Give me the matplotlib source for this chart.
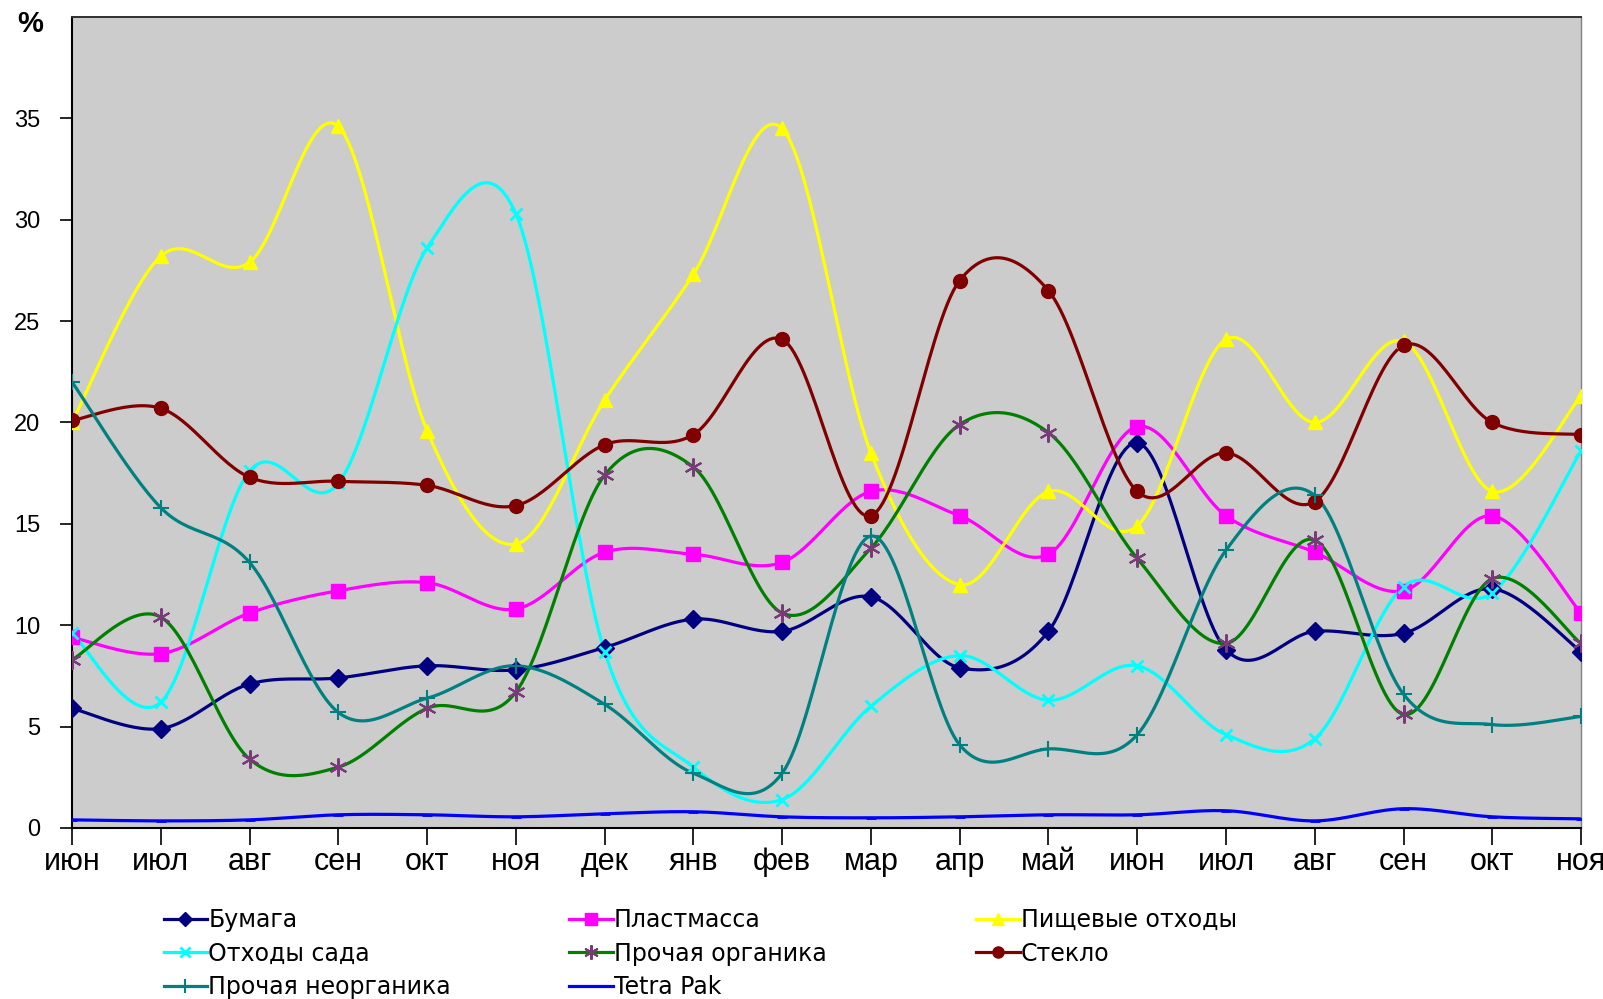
#!/usr/bin/env python3
"""
Waste composition by month, smoothed line chart.
"""

import numpy as np
import matplotlib
matplotlib.use("Agg")
import matplotlib.pyplot as plt
from matplotlib.transforms import ScaledTranslation

months = ["июн", "июл", "авг", "сен", "окт", "ноя", "дек", "янв", "фев",
          "мар", "апр", "май", "июн", "июл", "авг", "сен", "окт", "ноя"]

paper = [5.9, 4.9, 7.1, 7.4, 8.0, 7.8, 8.9, 10.3, 9.7,
         11.4, 7.9, 9.7, 19.0, 8.8, 9.7, 9.6, 11.8, 8.7]
plastic = [9.4, 8.6, 10.6, 11.7, 12.1, 10.8, 13.6, 13.5, 13.1,
           16.6, 15.4, 13.5, 19.8, 15.4, 13.6, 11.7, 15.4, 10.6]
food = [20.0, 28.2, 27.9, 34.6, 19.6, 14.0, 21.1, 27.3, 34.5,
        18.5, 12.0, 16.6, 14.9, 24.1, 20.0, 24.0, 16.6, 21.3]
garden = [9.6, 6.2, 17.6, 17.0, 28.6, 30.3, 8.7, 3.0, 1.4,
          6.0, 8.5, 6.3, 8.0, 4.6, 4.4, 11.9, 11.6, 18.6]
other_org = [8.3, 10.4, 3.4, 3.0, 5.9, 6.7, 17.4, 17.8, 10.6,
             13.8, 19.9, 19.5, 13.3, 9.1, 14.2, 5.6, 12.3, 9.1]
glass = [20.1, 20.7, 17.3, 17.1, 16.9, 15.9, 18.9, 19.4, 24.1,
         15.4, 27.0, 26.5, 16.6, 18.5, 16.1, 23.8, 20.0, 19.4]
other_inorg = [22.0, 15.8, 13.1, 5.7, 6.4, 8.0, 6.1, 2.7, 2.7,
               14.4, 4.1, 3.9, 4.6, 13.7, 16.4, 6.6, 5.1, 5.5]
tetra_pak = [0.4, 0.35, 0.4, 0.65, 0.65, 0.55, 0.7, 0.8, 0.55,
             0.5, 0.55, 0.65, 0.65, 0.85, 0.35, 0.95, 0.55, 0.45]

names = ["Бумага", "Пластмасса", "Пищевые отходы", "Отходы сада",
         "Прочая органика", "Стекло", "Прочая неорганика", "Tetra Pak"]


def smooth(y, n=30):
    """Bezier smoothing through every point, like a spreadsheet smoothed line."""
    y = np.asarray(y, dtype=float)
    x = np.arange(len(y), dtype=float)
    p = np.column_stack([x, y])
    p = np.vstack([p[0], p, p[-1]])
    t = np.linspace(0, 1, n)[:, None]
    out = []
    for i in range(1, len(p) - 2):
        p0, p1, p2, p3 = p[i - 1], p[i], p[i + 1], p[i + 2]
        c1 = p1 + (p2 - p0) / 6
        c2 = p2 - (p3 - p1) / 6
        seg = ((1 - t) ** 3) * p1 + 3 * ((1 - t) ** 2) * t * c1 \
            + 3 * (1 - t) * t ** 2 * c2 + t ** 3 * p2
        out.append(seg if i == 1 else seg[1:])
    out = np.vstack(out)
    return out[:, 0], out[:, 1]


asterisk = (6, 2, 0)
series = [
    (paper, "#000080", "D", 9, "#000080", 1.0),
    (plastic, "#FF00FF", "s", 10, "#FF00FF", 1.0),
    (food, "#FFFF00", "^", 10, "#FFFF00", 1.0),
    (garden, "#00FFFF", "x", 9, "#00FFFF", 2.0),
    (other_org, "#008000", asterisk, 13, "#7A3A7A", 1.5),
    (glass, "#800000", "o", 10, "#800000", 1.0),
    (other_inorg, "#008080", "+", 12, "#008080", 1.5),
    (tetra_pak, "#0000FF", "_", 7, "#0000FF", 2.0),
]

fig = plt.figure(figsize=(16.03, 9.99), dpi=100)
ax = fig.add_axes([0.0449, 0.1712, 0.9414, 0.8118])
ax.set_facecolor("#CCCCCC")

x = np.arange(len(months))
handles = []
for (vals, color, marker, ms, mcolor, mew), name in zip(series, names):
    xs, ys = smooth(vals)
    ax.plot(xs, ys, color=color, lw=2.3, zorder=2)
    ax.plot(x, vals, linestyle="none", marker=marker, ms=ms,
            color=mcolor, mec=mcolor, mew=mew, zorder=3)
    h, = ax.plot([], [], color=color, lw=2.3, marker=marker, ms=ms * 0.8,
                 mfc=mcolor, mec=mcolor, mew=mew)
    handles.append(h)

ax.set_xlim(0, len(months) - 1)
ax.set_ylim(0, 40)
ax.set_yticks(range(0, 40, 5))
ax.set_xticks(x)
ax.set_xticklabels(months)

for lab in ax.get_yticklabels():
    lab.set_family(["Liberation Sans", "DejaVu Sans"])
    lab.set_fontsize(17)
xlabels = ax.get_xticklabels()
for lab in xlabels:
    lab.set_family(["Liberation Sans", "DejaVu Sans"])
    lab.set_fontsize(22)
# keep the last month label inside the canvas
xlabels[-1].set_transform(xlabels[-1].get_transform()
                          + ScaledTranslation(-6 / 100, 0, fig.dpi_scale_trans))

ax.tick_params(axis="y", direction="out", length=9, width=1.2, pad=14,
               colors="black")
ax.tick_params(axis="x", direction="out", length=12, width=1.2, pad=2,
               colors="black")

ax.spines["left"].set_color("black")
ax.spines["left"].set_linewidth(1.5)
ax.spines["bottom"].set_color("black")
ax.spines["bottom"].set_linewidth(1.5)
ax.spines["top"].set_color("#303030")
ax.spines["top"].set_linewidth(1.4)
ax.spines["right"].set_color("#808080")
ax.spines["right"].set_linewidth(1.0)

fig.text(0.0187, 0.976, "%", fontsize=21, fontweight="bold",
         family=["Liberation Sans", "DejaVu Sans"], va="center", ha="center")

# legend: three columns, each placed on its own
columns = [[0, 3, 6], [1, 4, 7], [2, 5]]
col_x = [0.102, 0.355, 0.609]
for idx, cx in zip(columns, col_x):
    fig.legend([handles[i] for i in idx], [names[i] for i in idx],
               loc="upper left", bbox_to_anchor=(cx, 0.091),
               frameon=False, borderpad=0, borderaxespad=0,
               handlelength=1.85, handletextpad=0.05, labelspacing=0.4,
               prop={"family": ["DejaVu Sans"], "size": 17})

fig.savefig("out.png", dpi=100)
